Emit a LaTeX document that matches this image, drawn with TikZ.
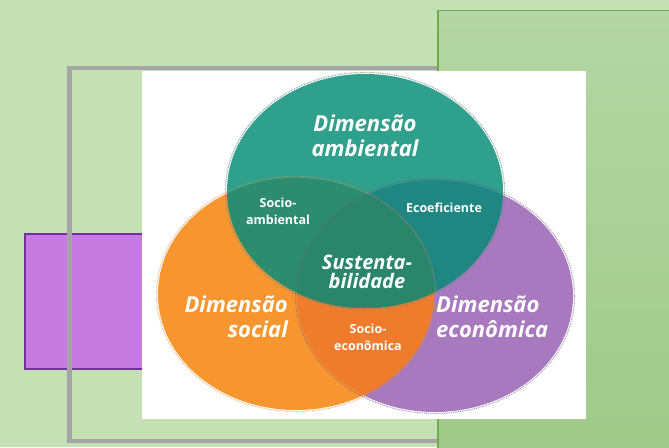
\documentclass[tikz,border=0pt]{standalone}
\usepackage{fontspec}
\setmainfont{Open Sans}

\definecolor{fundo}{HTML}{C5E0B4}
\definecolor{verdeA}{HTML}{B5D6A4}
\definecolor{verdeB}{HTML}{9FC989}
\definecolor{verdeBorda}{HTML}{70AD47}
\definecolor{cinzaMoldura}{HTML}{A5A5A5}
\definecolor{lilas}{HTML}{C77AE0}
\definecolor{roxoBorda}{HTML}{7030A0}
\definecolor{corAmb}{HTML}{2FA08B}
\definecolor{corSoc}{HTML}{F7962F}
\definecolor{corEco}{HTML}{A879BF}
\definecolor{corSocAmb}{HTML}{2C8C6D}
\definecolor{corEcoef}{HTML}{1F8681}
\definecolor{corSocEco}{HTML}{EE7C2B}
\definecolor{corCentro}{HTML}{2B8669}

\def\elAmb{(365,191) ellipse [x radius=138pt, y radius=117pt]}
\def\elSoc{(296,294) ellipse [x radius=138pt, y radius=116pt]}
\def\elEco{(435,296) ellipse [x radius=138pt, y radius=116pt]}

\tikzset{
  dimensao/.style={text=white, inner sep=0pt, font=\bfseries\itshape\fontsize{22}{25}\selectfont},
  miolo/.style={text=white, inner sep=0pt, align=center, font=\bfseries\itshape\fontsize{20}{18.5}\selectfont},
  pequeno/.style={text=white, inner sep=0pt, align=center, font=\bfseries\fontsize{12.5}{17}\selectfont},
  pontilhado/.style={dash pattern=on 0.9pt off 0.9pt, line width=1.1pt},
}

\begin{document}
\begin{tikzpicture}[x=1pt,y=-1pt]
\useasboundingbox (0,0) rectangle (669,447);
\fill [fundo] (0,0) rectangle (669,447);

% molduras
\fill [lilas, draw=roxoBorda, line width=2pt] (25,234) rectangle (150,369);
\draw [cinzaMoldura, line width=4.5pt] (69.5,68) rectangle (450,441);
\shade [top color=verdeA, bottom color=verdeB] (438,10.5) rectangle (690,470);
\draw [verdeBorda, line width=1.2pt] (438,470) -- (438,10.5) -- (690,10.5);
\fill [white] (142,71) rectangle (586,419);

% circulos
\fill [corEco] \elEco;
\fill [corSoc] \elSoc;
\begin{scope}
  \clip \elSoc;
  \fill [corSocEco] \elEco;
\end{scope}
\fill [corAmb] \elAmb;
\begin{scope}
  \clip \elAmb;
  \fill [corSocAmb] \elSoc;
  \fill [corEcoef] \elEco;
  \clip \elSoc;
  \fill [corCentro] \elEco;
\end{scope}

\draw [pontilhado, color=gray!70!corAmb, opacity=0.7] (365,191) ellipse [x radius=139.5pt, y radius=118.5pt];
\draw [pontilhado, color=corSoc!60!brown, opacity=0.6] (296,294) ellipse [x radius=139.5pt, y radius=117.5pt];
\draw [pontilhado, color=corEco!70!black, opacity=0.6] (435,296) ellipse [x radius=139.5pt, y radius=117.5pt];

% textos
\node [dimensao, align=center] (amb) at (365,136) {Dimensão\\ambiental};
\node [dimensao, align=right, anchor=east] (soc) at (288,317) {Dimensão\\social};
\node [dimensao, align=left, anchor=west] (eco) at (436,317) {Dimensão\\econômica};
\node [miolo] (sust) at (367,272) {Sustenta-\\bilidade};
\node [pequeno] (socamb) at (278,211) {Socio-\\ambiental};
\node [pequeno] (ecoef) at (444,208) {Ecoeficiente};
\node [pequeno] (soceco) at (368,337) {Socio-\\econômica};

\end{tikzpicture}
\end{document}
